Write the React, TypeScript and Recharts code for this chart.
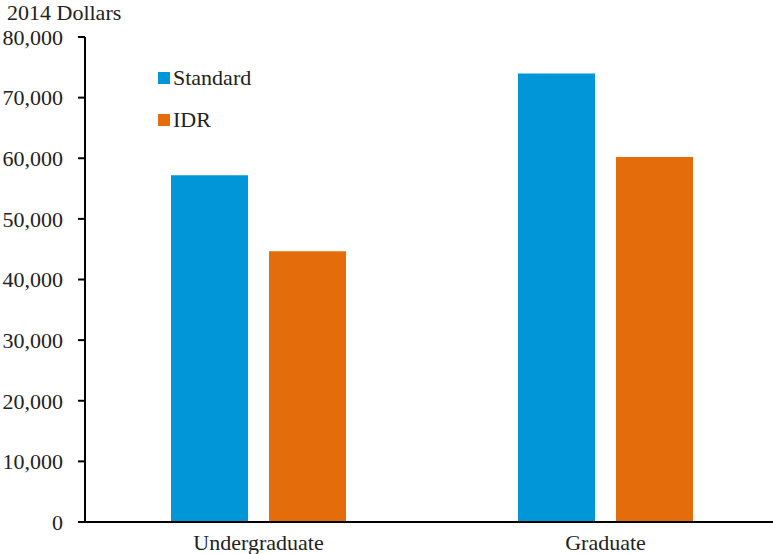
import React from 'react';
import { BarChart, Bar, XAxis, YAxis } from 'recharts';

const categories = ['Undergraduate', 'Graduate'];
const standardValues = [57200, 74000];
const idrValues = [44650, 60200];
const yTicks = [0, 10000, 20000, 30000, 40000, 50000, 60000, 70000, 80000];
const seriesNames = ['Standard', 'IDR'];
const colors = ['#0096D8', '#E46C0A'];
const unitLabel = '2014 Dollars';

const data = categories.map((c, i) => ({ name: c, Standard: standardValues[i], IDR: idrValues[i] }));

const FONT = '"Liberation Serif", "Times New Roman", serif';
const FS = 22;

export default function App() {
  return (
    <div style={{ position: 'fixed', left: 0, top: 0, width: 773, height: 554, overflow: 'hidden', background: '#fff' }}>
      <div style={{ position: 'absolute', left: 7, top: 1, fontFamily: FONT, fontSize: FS, color: '#222', lineHeight: '24px' }}>
        {unitLabel}
      </div>
      <div style={{ position: 'absolute', left: 158, top: 65, fontFamily: FONT, fontSize: FS, color: '#222', zIndex: 2 }}>
        {seriesNames.map((n, i) => (
          <div key={n} style={{ display: 'flex', alignItems: 'center', height: 26, marginBottom: i === 0 ? 16 : 0 }}>
            <span style={{ display: 'inline-block', width: 12, height: 12, background: colors[i], marginRight: 3 }} />
            <span>{n}</span>
          </div>
        ))}
      </div>
      <BarChart
        width={790}
        height={554}
        data={data}
        margin={{ top: 37, right: 11, bottom: 0, left: 0 }}
        barGap={21}
        barSize={77}
      >
        <XAxis
          dataKey="name"
          height={32}
          tickLine={false}
          tickSize={0}
          tickMargin={12}
          axisLine={{ stroke: '#000', strokeWidth: 2 }}
          tick={{ fill: '#222', fontSize: FS, fontFamily: FONT }}
        />
        <YAxis
          width={85}
          domain={[0, 80000]}
          ticks={yTicks}
          interval={0}
          tickSize={7}
          tickMargin={15}
          axisLine={{ stroke: '#000', strokeWidth: 2 }}
          tickLine={{ stroke: '#000', strokeWidth: 2 }}
          tick={{ fill: '#222', fontSize: FS, fontFamily: FONT }}
          tickFormatter={(v: number) => v.toLocaleString('en-US')}
        />
        <Bar dataKey="Standard" fill={colors[0]} isAnimationActive={false} />
        <Bar dataKey="IDR" fill={colors[1]} isAnimationActive={false} />
      </BarChart>
    </div>
  );
}
